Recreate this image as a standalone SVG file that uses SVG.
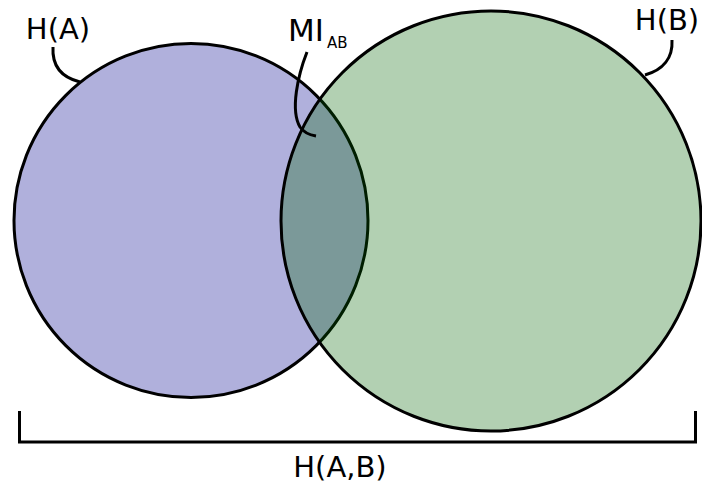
<svg xmlns="http://www.w3.org/2000/svg" width="702" height="484" viewBox="0 0 702 484">
<style>
.lbl{font-family:"DejaVu Sans","Liberation Sans",sans-serif;font-size:29px;fill:#000}
.sub{font-size:15px}
.ln{fill:none;stroke:#000;stroke-width:3;stroke-linecap:butt}
.circ{stroke:#000;stroke-width:3}
</style>
<rect width="702" height="484" fill="#fff"/>
<g id="setA">
<circle class="circ" cx="191" cy="220.5" r="177" fill="#b0b0dc"/>
</g>
<g id="setB">
<circle class="circ" cx="491" cy="221" r="210" fill="#006400" fill-opacity="0.3"/>
</g>
<g id="connectors">
<path class="ln" d="M53,47 C52,64 60,77 80,82"/>
<path class="ln" d="M672,40 C673,58 663,70 645,75"/>
<path class="ln" d="M307,52 C298,75 290,110 300,127 C304,133 310,135 316,136"/>
</g>
<g id="joint">
<path class="ln" d="M19.5,411 V442 H695.5 V411"/>
</g>
<g id="labels">
<text class="lbl" x="58" y="39" text-anchor="middle">H(A)</text>
<text class="lbl" x="667" y="30" text-anchor="middle">H(B)</text>
<text class="lbl" x="288" y="41" style="font-size:31px">MI<tspan class="sub" dx="3" dy="7">AB</tspan></text>
<text class="lbl" x="340" y="477" text-anchor="middle">H(A,B)</text>
</g>
</svg>
